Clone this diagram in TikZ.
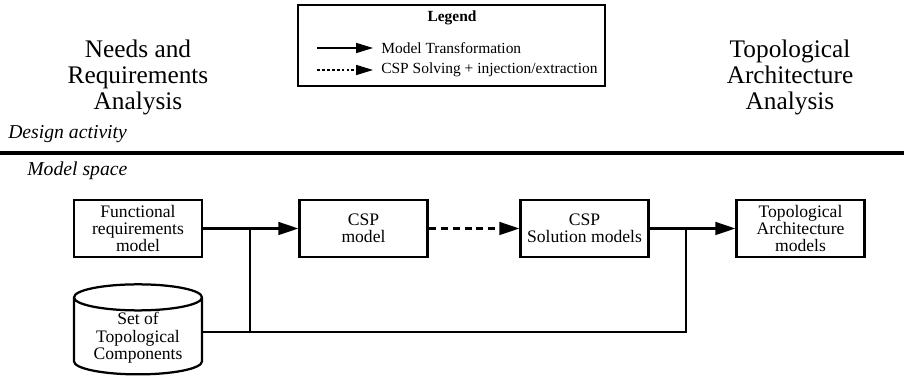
\documentclass[tikz,border=0pt]{standalone}
\usepackage{fontspec}
\setmainfont{Liberation Serif}
\usetikzlibrary{arrows.meta,shapes.geometric}

\begin{document}
\begin{tikzpicture}[x=0.025cm, y=-0.025cm,
    modelbox/.style={draw, line width=1.6pt, minimum width=3.2cm, minimum height=1.425cm,
                     inner sep=1pt, align=center, font=\fontsize{12.5}{12.1}\selectfont},
    activity/.style={align=center, font=\fontsize{18}{18.5}\selectfont},
    spacelabel/.style={anchor=west, inner sep=0pt, font=\fontsize{14}{15}\selectfont\itshape},
    legendtext/.style={anchor=west, inner sep=0pt, font=\fontsize{11}{13}\selectfont},
    conn/.style={line width=1.6pt},
    bigtip/.style={-{Triangle[length=5mm,width=3.2mm]}},
    smalltip/.style={-{Triangle[length=4.2mm,width=2.5mm]}}]
        \useasboundingbox (0,0) rectangle (904,379);

        % legend
        \node [draw, line width=0.8pt, minimum width=7.675cm, minimum height=2.025cm] (legend) at (451.5,45.5) {};
        \node [font=\fontsize{11}{13}\selectfont\bfseries] (legendtitle) at (452,18) {Legend};
        \coordinate (lga) at (317,48);  \coordinate (lgb) at (373,48);
        \coordinate (lgc) at (317,70);  \coordinate (lgd) at (373,70);
        \draw [line width=0.8pt, smalltip]                                  (lga) -- (lgb);
        \draw [line width=0.8pt, smalltip, dash pattern=on 2pt off 1.5pt]   (lgc) -- (lgd);
        \node [legendtext] (lgtrans) at (381,48) {Model Transformation};
        \node [legendtext] (lgsolve) at (381,70) {CSP Solving + injection/extraction};

        % design activities
        \node [activity] (needs) at (138,77) {Needs and\\Requirements\\Analysis};
        \node [activity] (topo)  at (790,77) {Topological\\Architecture\\Analysis};

        % separation
        \node [spacelabel] (design) at (8,134)  {Design activity};
        \coordinate (sepl) at (0,153);  \coordinate (sepr) at (904,153);
        \draw [line width=2.9pt] (sepl) -- (sepr);
        \node [spacelabel] (mspace) at (27,171) {Model space};

        % models
        \node [modelbox] (frm)  at (138,228.5)   {Functional\\requirements\\model};
        \node [modelbox] (cspm) at (363.5,228.5) {CSP\\model};
        \node [modelbox] (csps) at (584.5,228.5) {CSP\\Solution models};
        \node [modelbox] (tam)  at (800.5,228.5) {Topological\\Architecture\\models};
        \node [draw, line width=1.6pt, cylinder, shape border rotate=90, aspect=0.21,
               inner xsep=1.55cm, inner ysep=0pt,
               minimum width=3.2cm, minimum height=2.25cm, anchor=south] (stc) at (138,375.5) {};
        \node [align=center, inner sep=0pt, font=\fontsize{12.5}{12.4}\selectfont] (stctext) at (138,338)
              {Set of\\Topological\\Components};

        % transformations
        \coordinate (j1) at (250,228.5);
        \coordinate (j2) at (686,228.5);
        \coordinate (j3) at (686,332);
        \draw [conn, bigtip]                                (frm.east)  -- (cspm.west);
        \draw [conn, bigtip, dash pattern=on 5pt off 3.5pt] (cspm.east) -- (csps.west);
        \draw [conn, bigtip]                                (csps.east) -- (tam.west);
        \draw [conn]                                        (stc.east |- j3) -- (j3) -- (j2);
        \draw [conn]                                        (stc.east |- j3 -| j1) -- (j1);
\end{tikzpicture}
\end{document}
